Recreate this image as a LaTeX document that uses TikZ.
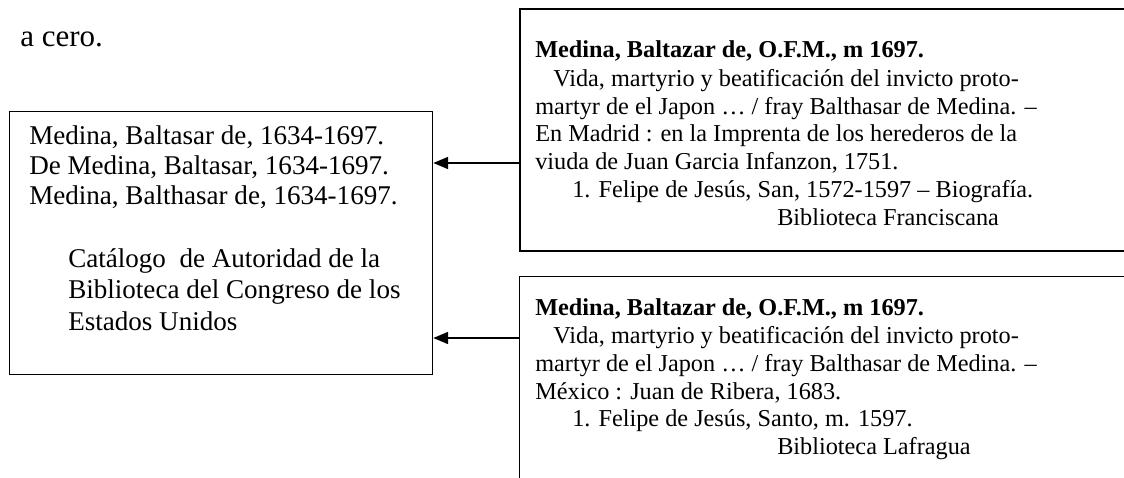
\documentclass[tikz,border=0pt]{standalone}
\usepackage{fontspec}
\setmainfont{Liberation Serif}
\usetikzlibrary{arrows.meta}
\tikzset{
  box/.style={draw=black, anchor=north west, inner sep=0pt, line width=1pt},
  topbox/.style={box, line width=1.4pt},
  lefttxt/.style={anchor=base west, inner sep=0pt, font=\fontsize{20.3}{22}\selectfont},
  righttxt/.style={anchor=base west, inner sep=0pt, font=\fontsize{18.2}{20}\selectfont},
  boldtxt/.style={righttxt, font=\fontsize{18.2}{20}\selectfont\bfseries},
  conn/.style={line width=1pt, -{Triangle[length=11pt,width=9pt]}}
}
\begin{document}
\begin{tikzpicture}[x=0.75pt, y=-0.75pt]
\useasboundingbox (0,0) rectangle (1124,478);
\clip (0,0) rectangle (1124,478);

% heading text
\node[anchor=base west, inner sep=0pt, font=\fontsize{23.25}{26}\selectfont] (head) at (20,47) {a cero.};

% boxes
\node[box, minimum width=317.25pt, minimum height=197.25pt] (L) at (9,111) {};
\node[topbox, minimum width=465.75pt, minimum height=181.5pt] (T) at (519,8) {};
\node[box, minimum width=465.75pt, minimum height=175.5pt] (B) at (519,276) {};

% left box text
\node[lefttxt] (l1) at (29,144) {Medina, Baltasar de, 1634-1697.};
\node[lefttxt] (l2) at (29,174) {De Medina, Baltasar, 1634-1697.};
\node[lefttxt] (l3) at (29,204) {Medina, Balthasar de, 1634-1697.};
\node[lefttxt] (l4) at (68,267) {Catálogo\ \ de Autoridad de la};
\node[lefttxt] (l5) at (68,298) {Biblioteca del Congreso de los};
\node[lefttxt] (l6) at (68,330) {Estados Unidos};

% top right box text
\node[boldtxt] (t1) at (535,58) {Medina, Baltazar de, O.F.M., m 1697.};
\node[righttxt] (t2) at (553,86) {Vida, martyrio y beatificación del invicto proto-};
\node[righttxt] (t3) at (535,114) {martyr de el Japon … / fray Balthasar de Medina. –};
\node[righttxt] (t4) at (535,141.5) {En Madrid : en la Imprenta de los herederos de la};
\node[righttxt] (t5) at (535,169.5) {viuda de Juan Garcia Infanzon, 1751.};
\node[righttxt] (t6) at (572,197) {1. Felipe de Jesús, San, 1572-1597 – Biografía.};
\node[righttxt] (t7) at (777,225) {Biblioteca Franciscana};

% bottom right box text
\node[boldtxt] (b1) at (535,315) {Medina, Baltazar de, O.F.M., m 1697.};
\node[righttxt] (b2) at (553,343) {Vida, martyrio y beatificación del invicto proto-};
\node[righttxt] (b3) at (535,371) {martyr de el Japon … / fray Balthasar de Medina. –};
\node[righttxt] (b4) at (535,399) {México : Juan de Ribera, 1683.};
\node[righttxt] (b5) at (572,426.5) {1. Felipe de Jesús, Santo, m. 1597.};
\node[righttxt] (b6) at (777,454.5) {Biblioteca Lafragua};

% connectors
\coordinate (s1) at (519,163);
\coordinate (s2) at (519,338);
\draw[conn] (T.west |- s1) -- (L.east |- s1);
\draw[conn] (B.west |- s2) -- (L.east |- s2);
\end{tikzpicture}
\end{document}
